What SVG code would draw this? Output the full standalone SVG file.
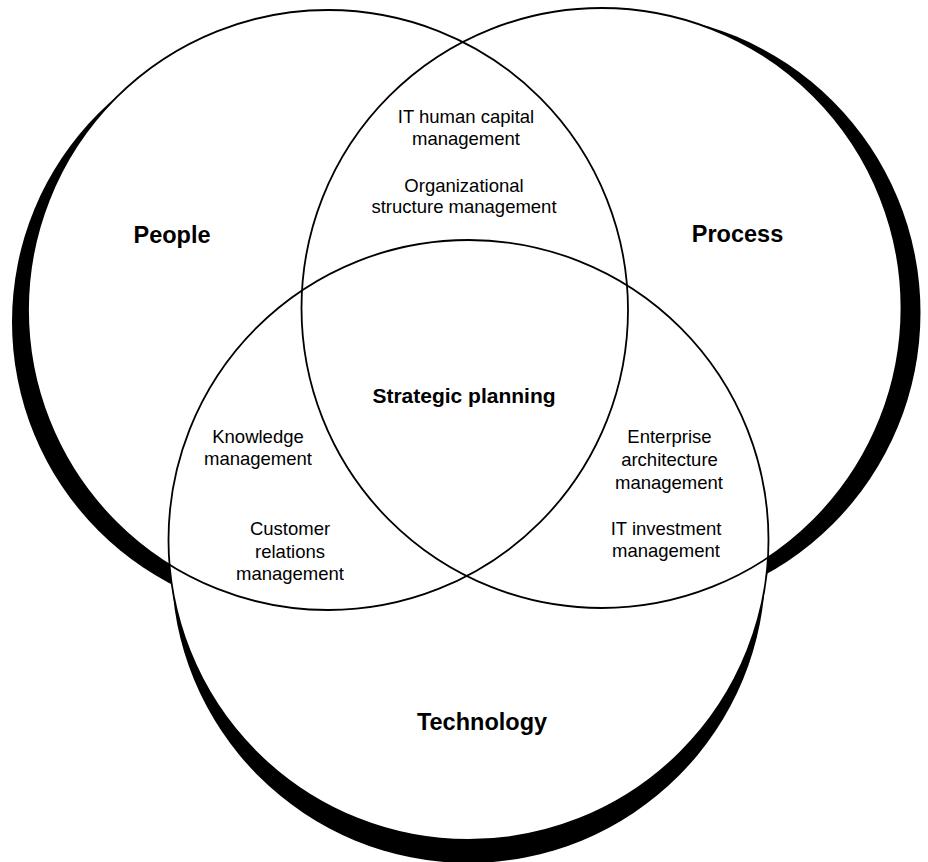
<svg xmlns="http://www.w3.org/2000/svg" width="928" height="862" viewBox="0 0 928 862">
<style>
.shadow{fill:#000}
.back{fill:#fff}
.ring{fill:none;stroke:#000;stroke-width:1.8}
.title{font-family:"Liberation Sans",Arial,Helvetica,sans-serif;font-weight:bold;font-size:23.5px;text-anchor:middle;fill:#000}
.center{font-family:"Liberation Sans",Arial,Helvetica,sans-serif;font-weight:bold;font-size:21px;text-anchor:middle;fill:#000}
.item{font-family:"Liberation Sans",Arial,Helvetica,sans-serif;font-size:18.5px;text-anchor:middle;fill:#000}
</style>
<rect width="928" height="862" fill="#fff"/>
<g id="backdrops">
  <circle class="shadow" cx="307.3" cy="322" r="295.3"/>
  <circle class="shadow" cx="621.5" cy="312.6" r="299"/>
  <circle class="shadow" cx="468.5" cy="566" r="297"/>
  <circle class="back" cx="328" cy="310" r="300"/>
  <circle class="back" cx="601.5" cy="308" r="300"/>
  <circle class="back" cx="468.5" cy="540" r="300"/>
</g>
<g id="people">
  <circle class="ring" cx="328" cy="310" r="300"/>
  <text class="title" x="172" y="243">People</text>
</g>
<g id="process">
  <circle class="ring" cx="601.5" cy="308" r="300"/>
  <text class="title" x="737.5" y="242">Process</text>
</g>
<g id="technology">
  <circle class="ring" cx="468.5" cy="540" r="300"/>
  <text class="title" x="482" y="730">Technology</text>
</g>
<g id="people-process">
  <text class="item" x="466" y="123">IT human capital</text>
  <text class="item" x="466" y="145">management</text>
  <text class="item" x="464" y="192">Organizational</text>
  <text class="item" x="464" y="213">structure management</text>
</g>
<g id="people-technology">
  <text class="item" x="258" y="443">Knowledge</text>
  <text class="item" x="258" y="464.5">management</text>
  <text class="item" x="290" y="535">Customer</text>
  <text class="item" x="290" y="557.5">relations</text>
  <text class="item" x="290" y="580">management</text>
</g>
<g id="process-technology">
  <text class="item" x="669.5" y="443">Enterprise</text>
  <text class="item" x="669.5" y="466">architecture</text>
  <text class="item" x="669" y="488.5">management</text>
  <text class="item" x="666" y="534.5">IT investment</text>
  <text class="item" x="666" y="557">management</text>
</g>
<g id="strategic-planning">
  <text class="center" x="464" y="403">Strategic planning</text>
</g>
</svg>
